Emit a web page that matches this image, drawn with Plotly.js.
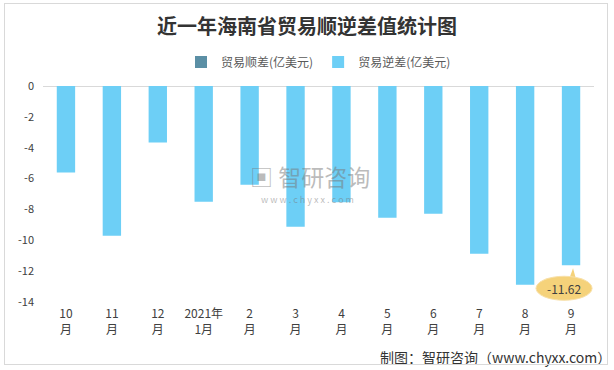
<!DOCTYPE html>
<html><head><meta charset="utf-8">
<script src="https://cdn.plot.ly/plotly-3.0.1.min.js"></script>
<style>html,body{margin:0;padding:0;background:#fff;}#c{width:614px;height:370px;}
#frame{position:absolute;left:4px;top:3px;width:604px;height:362px;border:1px solid #D9D9D9;pointer-events:none;box-sizing:border-box;}</style>
</head><body><div id="c"></div><div id="frame"></div>
<script>
var categories = ["10<br>月","11<br>月","12<br>月","2021年<br>1月","2<br>月","3<br>月","4<br>月","5<br>月","6<br>月","7<br>月","8<br>月","9<br>月"];
var surplus = [null,null,null,null,null,null,null,null,null,null,null,null];
var deficit = [-5.61,-9.71,-3.66,-7.50,-6.40,-9.12,-7.54,-8.54,-8.28,-10.88,-12.89,-11.62];
var yTicks = [0,-2,-4,-6,-8,-10,-12,-14];
var lastIdx = deficit.length - 1;
var lastVal = deficit[lastIdx];

var font = "'Microsoft YaHei','Noto Sans CJK SC','Noto Sans',sans-serif";
var data = [
  {type:'bar', name:'贸易顺差(亿美元)', x:categories, y:surplus, marker:{color:'#5B8FA5'}},
  {type:'bar', name:'贸易逆差(亿美元)', x:categories, y:deficit, marker:{color:'#6DCFF6'}}
];
var layout = {
  width:614, height:370,
  margin:{l:43, r:20, t:86, b:68},
  paper_bgcolor:'#fff', plot_bgcolor:'#fff',
  barmode:'relative', bargap:0.6,
  font:{family:font, color:'#404040', size:11},
  title:{text:'<b>近一年海南省贸易顺逆差值统计图</b>', font:{family:"'Noto Sans CJK SC',serif", size:20, color:'#333'}, x:0.5, xanchor:'center', yref:'container', y:1-27/370, yanchor:'middle'},
  showlegend:true,
  legend:{orientation:'h', x:0.5, xanchor:'center', y:1.111, yanchor:'middle', font:{size:12, color:'#595959'}, itemwidth:30, traceorder:'normal'},
  xaxis:{type:'category', showline:false, showgrid:false, ticks:'', tickfont:{size:12, color:'#404040'}, ticklabelstandoff:3, fixedrange:true},
  yaxis:{range:[-14,0], tickvals:yTicks, ticktext:yTicks.map(String), showgrid:false, zeroline:true, zerolinecolor:'#D9D9D9', zerolinewidth:1, showline:false, ticks:'', tickfont:{size:11, color:'#404040'}, ticklabelstandoff:8},
  shapes:[
    {type:'path', xref:'x', yref:'y', xsizemode:'pixel', ysizemode:'pixel', xanchor:lastIdx, yanchor:lastVal,
     path:'M -2,-14 L 2,-3 L 5,-14 Z', fillcolor:'#F5D27A', line:{width:0}, layer:'above'},
    {type:'circle', xref:'x', yref:'y', xsizemode:'pixel', ysizemode:'pixel', xanchor:lastIdx, yanchor:lastVal,
     x0:-35, x1:21, y0:-35, y1:-11, fillcolor:'#F5D27A', line:{color:'#F8E0A8', width:1}, layer:'above'}
  ],
  annotations:[
    {xref:'x', yref:'y', x:lastIdx, y:lastVal, xshift:-7, yshift:-23, text:lastVal.toFixed(2), showarrow:false, font:{size:12, color:'#404040'}},
    {xref:'paper', yref:'paper', x:1.035, xanchor:'right', y:-0.255, yanchor:'middle', text:'制图：智研咨询（www.chyxx.com）', showarrow:false, font:{size:14, color:'#333'}},
    {xref:'paper', yref:'paper', x:(310-43)/551, xanchor:'center', y:(301.7-176)/215.7, yanchor:'middle', text:'▣ 智研咨询', showarrow:false, borderpad:0, font:{size:23, color:'rgba(120,120,120,0.5)'}},
    {xref:'paper', yref:'paper', x:(307-43)/551, xanchor:'center', y:(301.7-199)/215.7, yanchor:'middle', text:'w w w . c h y x x . c o m', showarrow:false, borderpad:0, font:{size:9, color:'rgba(120,120,120,0.5)'}}
  ]
};
Plotly.newPlot('c', data, layout, {displayModeBar:false, staticPlot:true});
</script></body></html>
